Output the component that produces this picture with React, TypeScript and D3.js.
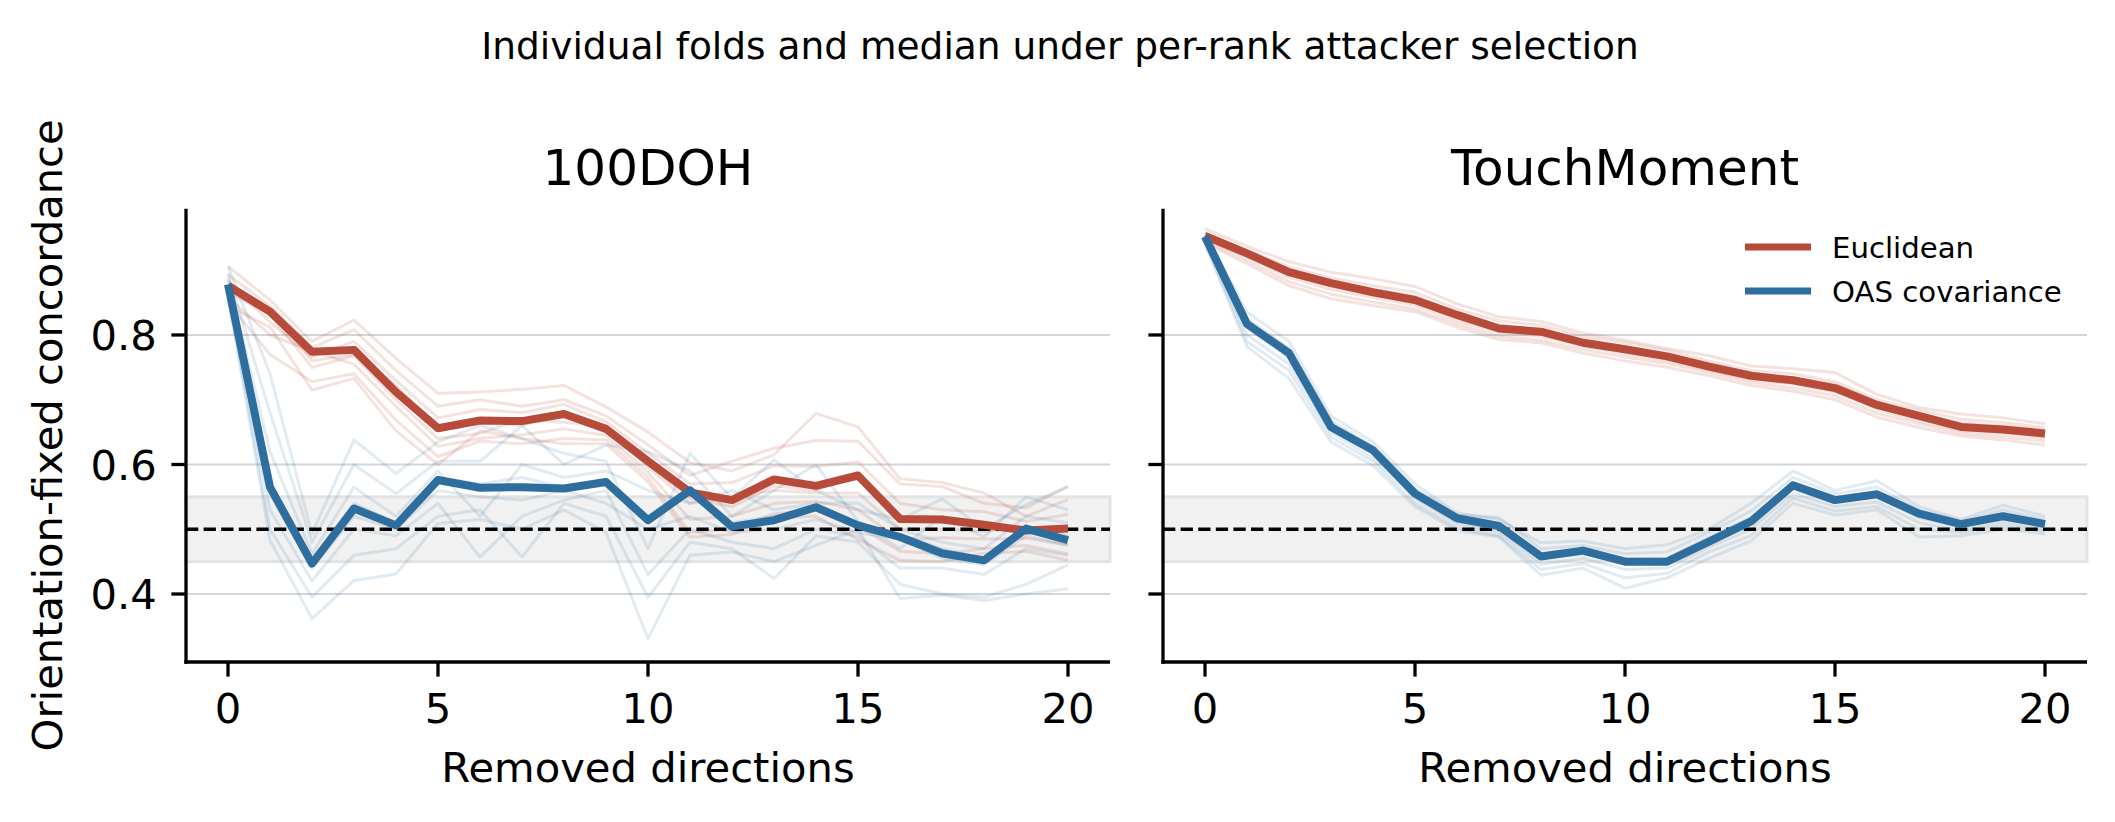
import { useEffect, useRef } from 'react';
import * as d3 from 'd3';

// ── Figure constants ──
const W = 2115;
const H = 822;
const RED = '#b84a3a';
const BLUE = '#2e6e9e';
const FONT = '"DejaVu Sans", Verdana, sans-serif';

// ── Data ──
const STEPS = [0, 1, 2, 3, 4, 5, 6, 7, 8, 9, 10, 11, 12, 13, 14, 15, 16, 17, 18, 19, 20];
const X_TICKS = [0, 5, 10, 15, 20];
const Y_TICKS = [0.4, 0.6, 0.8];
const Y_TICK_LABELS = ['0.4', '0.6', '0.8'];
const CHANCE = 0.5;
const BAND = [0.45, 0.55];

const DOH_EUC_MEDIAN = [0.876, 0.836, 0.774, 0.777, 0.712, 0.656, 0.668, 0.667, 0.678, 0.655, 0.605, 0.557, 0.545, 0.577, 0.567, 0.583, 0.516, 0.515, 0.507, 0.498, 0.501];
const DOH_OAS_MEDIAN = [0.878, 0.565, 0.447, 0.532, 0.506, 0.576, 0.564, 0.565, 0.563, 0.573, 0.514, 0.560, 0.504, 0.514, 0.534, 0.506, 0.488, 0.463, 0.452, 0.501, 0.483];
const TM_EUC_MEDIAN = [0.953, 0.926, 0.897, 0.880, 0.866, 0.854, 0.831, 0.810, 0.805, 0.788, 0.778, 0.767, 0.751, 0.737, 0.730, 0.718, 0.692, 0.675, 0.658, 0.654, 0.648];
const TM_OAS_MEDIAN = [0.952, 0.817, 0.772, 0.658, 0.622, 0.555, 0.517, 0.505, 0.458, 0.467, 0.450, 0.450, 0.481, 0.512, 0.568, 0.545, 0.554, 0.524, 0.508, 0.520, 0.508];

const DOH_EUC_FOLDS = [
  [0.906, 0.854, 0.790, 0.823, 0.764, 0.710, 0.712, 0.716, 0.722, 0.689, 0.650, 0.603, 0.590, 0.615, 0.679, 0.658, 0.578, 0.572, 0.556, 0.520, 0.546],
  [0.893, 0.845, 0.781, 0.808, 0.745, 0.690, 0.700, 0.690, 0.700, 0.675, 0.630, 0.583, 0.605, 0.625, 0.637, 0.636, 0.570, 0.566, 0.540, 0.533, 0.566],
  [0.884, 0.820, 0.766, 0.790, 0.730, 0.672, 0.685, 0.680, 0.693, 0.666, 0.618, 0.570, 0.572, 0.598, 0.597, 0.604, 0.540, 0.530, 0.527, 0.512, 0.523],
  [0.872, 0.840, 0.760, 0.770, 0.722, 0.655, 0.668, 0.660, 0.680, 0.650, 0.600, 0.548, 0.535, 0.567, 0.560, 0.585, 0.512, 0.518, 0.507, 0.494, 0.505],
  [0.866, 0.832, 0.750, 0.768, 0.700, 0.640, 0.648, 0.670, 0.665, 0.660, 0.596, 0.540, 0.548, 0.560, 0.556, 0.556, 0.500, 0.500, 0.497, 0.502, 0.488],
  [0.858, 0.800, 0.775, 0.755, 0.690, 0.628, 0.640, 0.646, 0.655, 0.645, 0.588, 0.515, 0.520, 0.540, 0.543, 0.530, 0.483, 0.487, 0.485, 0.486, 0.476],
  [0.850, 0.770, 0.728, 0.740, 0.668, 0.612, 0.636, 0.632, 0.640, 0.638, 0.580, 0.495, 0.500, 0.524, 0.530, 0.505, 0.466, 0.462, 0.470, 0.475, 0.462],
  [0.845, 0.812, 0.715, 0.733, 0.652, 0.600, 0.652, 0.640, 0.632, 0.632, 0.573, 0.488, 0.492, 0.517, 0.520, 0.484, 0.452, 0.450, 0.463, 0.466, 0.452],
];

const DOH_OAS_FOLDS = [
  [0.906, 0.740, 0.493, 0.638, 0.586, 0.635, 0.660, 0.640, 0.617, 0.605, 0.470, 0.617, 0.548, 0.607, 0.560, 0.530, 0.515, 0.547, 0.500, 0.538, 0.566],
  [0.895, 0.680, 0.480, 0.600, 0.555, 0.605, 0.605, 0.660, 0.600, 0.630, 0.620, 0.590, 0.520, 0.560, 0.600, 0.512, 0.470, 0.520, 0.488, 0.550, 0.530],
  [0.888, 0.620, 0.462, 0.565, 0.520, 0.590, 0.520, 0.600, 0.580, 0.590, 0.560, 0.540, 0.560, 0.530, 0.540, 0.540, 0.500, 0.480, 0.470, 0.520, 0.510],
  [0.880, 0.570, 0.450, 0.540, 0.510, 0.580, 0.570, 0.580, 0.565, 0.575, 0.520, 0.565, 0.510, 0.520, 0.530, 0.505, 0.492, 0.470, 0.455, 0.505, 0.490],
  [0.876, 0.555, 0.440, 0.520, 0.500, 0.560, 0.550, 0.545, 0.560, 0.540, 0.500, 0.520, 0.495, 0.500, 0.515, 0.495, 0.485, 0.455, 0.445, 0.490, 0.475],
  [0.872, 0.530, 0.420, 0.500, 0.490, 0.540, 0.457, 0.520, 0.545, 0.560, 0.430, 0.500, 0.480, 0.470, 0.500, 0.490, 0.440, 0.440, 0.430, 0.470, 0.460],
  [0.866, 0.500, 0.395, 0.460, 0.470, 0.520, 0.530, 0.457, 0.540, 0.520, 0.395, 0.480, 0.470, 0.424, 0.490, 0.480, 0.415, 0.400, 0.395, 0.415, 0.445],
  [0.860, 0.483, 0.362, 0.421, 0.431, 0.509, 0.515, 0.500, 0.530, 0.495, 0.331, 0.460, 0.465, 0.450, 0.475, 0.500, 0.393, 0.398, 0.390, 0.400, 0.408],
];

const TM_EUC_FOLDS = [
  [0.964, 0.937, 0.913, 0.897, 0.887, 0.875, 0.848, 0.828, 0.821, 0.803, 0.792, 0.779, 0.768, 0.752, 0.748, 0.742, 0.708, 0.688, 0.678, 0.672, 0.663],
  [0.958, 0.931, 0.905, 0.888, 0.876, 0.866, 0.840, 0.822, 0.815, 0.798, 0.788, 0.776, 0.760, 0.745, 0.740, 0.728, 0.700, 0.684, 0.670, 0.665, 0.657],
  [0.955, 0.928, 0.899, 0.880, 0.870, 0.860, 0.834, 0.816, 0.808, 0.793, 0.782, 0.770, 0.756, 0.741, 0.734, 0.724, 0.696, 0.678, 0.664, 0.660, 0.653],
  [0.951, 0.923, 0.893, 0.875, 0.864, 0.851, 0.827, 0.809, 0.803, 0.787, 0.776, 0.765, 0.750, 0.736, 0.728, 0.716, 0.689, 0.672, 0.657, 0.653, 0.646],
  [0.948, 0.920, 0.889, 0.870, 0.858, 0.846, 0.822, 0.804, 0.798, 0.782, 0.771, 0.760, 0.746, 0.731, 0.724, 0.712, 0.685, 0.667, 0.652, 0.648, 0.641],
  [0.945, 0.915, 0.882, 0.863, 0.851, 0.840, 0.817, 0.798, 0.792, 0.777, 0.766, 0.756, 0.742, 0.727, 0.718, 0.706, 0.679, 0.663, 0.648, 0.643, 0.636],
  [0.942, 0.910, 0.876, 0.856, 0.845, 0.836, 0.812, 0.793, 0.788, 0.772, 0.760, 0.750, 0.737, 0.722, 0.713, 0.700, 0.673, 0.657, 0.644, 0.638, 0.630],
];

const TM_OAS_FOLDS = [
  [0.958, 0.835, 0.790, 0.675, 0.635, 0.570, 0.525, 0.515, 0.479, 0.482, 0.470, 0.476, 0.500, 0.540, 0.590, 0.560, 0.575, 0.535, 0.515, 0.537, 0.520],
  [0.955, 0.825, 0.780, 0.668, 0.628, 0.563, 0.522, 0.518, 0.470, 0.475, 0.462, 0.465, 0.495, 0.528, 0.580, 0.555, 0.565, 0.530, 0.512, 0.530, 0.515],
  [0.952, 0.818, 0.772, 0.662, 0.623, 0.559, 0.518, 0.508, 0.462, 0.470, 0.455, 0.455, 0.488, 0.518, 0.572, 0.550, 0.558, 0.526, 0.508, 0.524, 0.512],
  [0.949, 0.812, 0.765, 0.657, 0.618, 0.553, 0.513, 0.500, 0.455, 0.462, 0.448, 0.446, 0.480, 0.508, 0.562, 0.541, 0.550, 0.518, 0.503, 0.516, 0.505],
  [0.946, 0.800, 0.755, 0.650, 0.610, 0.548, 0.508, 0.495, 0.446, 0.455, 0.438, 0.440, 0.472, 0.500, 0.555, 0.535, 0.542, 0.510, 0.498, 0.510, 0.500],
  [0.943, 0.790, 0.745, 0.642, 0.605, 0.540, 0.502, 0.490, 0.438, 0.447, 0.425, 0.432, 0.465, 0.490, 0.548, 0.528, 0.535, 0.500, 0.495, 0.505, 0.497],
  [0.940, 0.782, 0.733, 0.635, 0.598, 0.535, 0.498, 0.488, 0.429, 0.440, 0.409, 0.425, 0.455, 0.482, 0.540, 0.522, 0.530, 0.488, 0.490, 0.500, 0.493],
];

const PANELS = [
  { title: '100DOH', left: 186, euc: DOH_EUC_MEDIAN, oas: DOH_OAS_MEDIAN, eucFolds: DOH_EUC_FOLDS, oasFolds: DOH_OAS_FOLDS, yLabels: true, legend: false },
  { title: 'TouchMoment', left: 1163, euc: TM_EUC_MEDIAN, oas: TM_OAS_MEDIAN, eucFolds: TM_EUC_FOLDS, oasFolds: TM_OAS_FOLDS, yLabels: false, legend: true },
];

const LEGEND = [
  { label: 'Euclidean', color: RED },
  { label: 'OAS covariance', color: BLUE },
];

// ── Layout ──
const PW = 924;
const TOP = 208.7;
const BOTTOM = 662;
const SPINE = 3.3;
const TICK = 14.6;

export default function App() {
  const svgRef = useRef<SVGSVGElement>(null);

  useEffect(() => {
    document.body.style.margin = '0';
    const svgEl = svgRef.current;
    if (!svgEl) return;
    const svg = d3.select(svgEl);
    svg.selectAll('*').remove();

    svg.append('rect').attr('width', W).attr('height', H).attr('fill', '#fff');

    // Suptitle
    svg
      .append('text')
      .attr('x', 1060)
      .attr('y', 59)
      .attr('text-anchor', 'middle')
      .attr('font-size', 37.5)
      .attr('font-family', FONT)
      .text('Individual folds and median under per-rank attacker selection');

    const y = d3.scaleLinear().domain([0.295, 0.995]).range([BOTTOM, TOP]);

    PANELS.forEach((p) => {
      const x = d3.scaleLinear().domain([-1, 21]).range([p.left, p.left + PW]);
      const g = svg.append('g');
      const clipId = `clip-${p.title}`;
      g.append('clipPath')
        .attr('id', clipId)
        .append('rect')
        .attr('x', p.left)
        .attr('y', TOP)
        .attr('width', PW)
        .attr('height', BOTTOM - TOP);

      // Grid
      g.selectAll('.grid')
        .data(Y_TICKS)
        .enter()
        .append('line')
        .attr('x1', p.left)
        .attr('x2', p.left + PW)
        .attr('y1', (d) => y(d))
        .attr('y2', (d) => y(d))
        .attr('stroke', '#d2d6dc')
        .attr('stroke-width', 2.2);

      // Chance band
      g.append('rect')
        .attr('x', p.left)
        .attr('width', PW)
        .attr('y', y(BAND[1]))
        .attr('height', y(BAND[0]) - y(BAND[1]))
        .attr('fill', '#f1f1f1')
        .attr('stroke', '#e3e3e3')
        .attr('stroke-width', 3);

      const line = d3
        .line<number>()
        .x((_, i) => x(STEPS[i]))
        .y((d) => y(d));

      const plot = g.append('g').attr('clip-path', `url(#${clipId})`);

      // Individual folds
      p.eucFolds.forEach((f) => {
        plot.append('path').attr('d', line(f)).attr('fill', 'none').attr('stroke', RED)
          .attr('stroke-width', 3).attr('stroke-opacity', 0.16).attr('stroke-linejoin', 'round');
      });
      p.oasFolds.forEach((f) => {
        plot.append('path').attr('d', line(f)).attr('fill', 'none').attr('stroke', BLUE)
          .attr('stroke-width', 3).attr('stroke-opacity', 0.14).attr('stroke-linejoin', 'round');
      });

      // Chance line
      plot.append('line')
        .attr('x1', p.left)
        .attr('x2', p.left + PW)
        .attr('y1', y(CHANCE))
        .attr('y2', y(CHANCE))
        .attr('stroke', '#000')
        .attr('stroke-width', 3.4)
        .attr('stroke-dasharray', '12.3,5.3');

      // Medians
      plot.append('path').attr('d', line(p.euc)).attr('fill', 'none').attr('stroke', RED)
        .attr('stroke-width', 8).attr('stroke-linejoin', 'round');
      plot.append('path').attr('d', line(p.oas)).attr('fill', 'none').attr('stroke', BLUE)
        .attr('stroke-width', 8).attr('stroke-linejoin', 'round');

      // Spines
      g.append('line')
        .attr('x1', p.left).attr('x2', p.left)
        .attr('y1', TOP).attr('y2', BOTTOM + SPINE / 2)
        .attr('stroke', '#000').attr('stroke-width', SPINE);
      g.append('line')
        .attr('x1', p.left - SPINE / 2).attr('x2', p.left + PW)
        .attr('y1', BOTTOM).attr('y2', BOTTOM)
        .attr('stroke', '#000').attr('stroke-width', SPINE);

      // X ticks
      X_TICKS.forEach((t) => {
        g.append('line')
          .attr('x1', x(t)).attr('x2', x(t))
          .attr('y1', BOTTOM).attr('y2', BOTTOM + TICK)
          .attr('stroke', '#000').attr('stroke-width', SPINE);
        g.append('text')
          .attr('x', x(t)).attr('y', 723)
          .attr('text-anchor', 'middle')
          .attr('font-size', 41.7).attr('font-family', FONT)
          .text(String(t));
      });

      // Y ticks
      Y_TICKS.forEach((t, i) => {
        g.append('line')
          .attr('x1', p.left).attr('x2', p.left - TICK)
          .attr('y1', y(t)).attr('y2', y(t))
          .attr('stroke', '#000').attr('stroke-width', SPINE);
        if (p.yLabels) {
          g.append('text')
            .attr('x', p.left - TICK - 14.6)
            .attr('y', y(t) + 15.2)
            .attr('text-anchor', 'end')
            .attr('font-size', 41.7).attr('font-family', FONT)
            .text(Y_TICK_LABELS[i]);
        }
      });

      // Titles and labels
      g.append('text')
        .attr('x', p.left + PW / 2).attr('y', 185)
        .attr('text-anchor', 'middle')
        .attr('font-size', 50).attr('font-family', FONT)
        .text(p.title);
      g.append('text')
        .attr('x', p.left + PW / 2).attr('y', 782)
        .attr('text-anchor', 'middle')
        .attr('font-size', 41.7).attr('font-family', FONT)
        .text('Removed directions');
      if (p.yLabels) {
        g.append('text')
          .attr('transform', `translate(62,${(TOP + BOTTOM) / 2}) rotate(-90)`)
          .attr('text-anchor', 'middle')
          .attr('font-size', 41.7).attr('font-family', FONT)
          .text('Orientation-fixed concordance');
      }

      // Legend
      if (p.legend) {
        LEGEND.forEach((l, i) => {
          const ly = 247 + i * 44;
          g.append('line')
            .attr('x1', 1745).attr('x2', 1811)
            .attr('y1', ly).attr('y2', ly)
            .attr('stroke', l.color).attr('stroke-width', 7);
          g.append('text')
            .attr('x', 1832).attr('y', ly + 10.6)
            .attr('font-size', 29.2).attr('font-family', FONT)
            .text(l.label);
        });
      }
    });

    return () => {
      svg.selectAll('*').remove();
    };
  }, []);

  return <svg ref={svgRef} width={W} height={H} style={{ display: 'block' }} />;
}
